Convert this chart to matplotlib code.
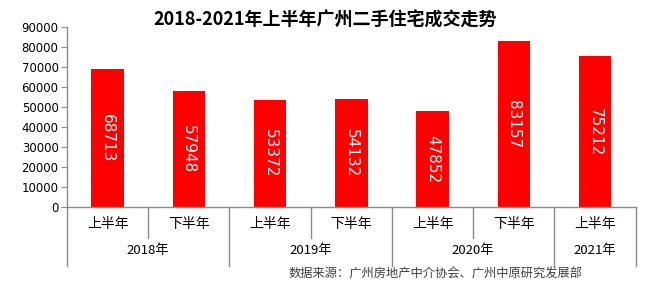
import matplotlib.pyplot as plt
import matplotlib.transforms as mtrans

plt.rcParams['font.family'] = ['Noto Sans CJK SC', 'DejaVu Sans']

years = ['2018年', '2019年', '2020年', '2021年']
halves = ['上半年', '下半年', '上半年', '下半年', '上半年', '下半年', '上半年']
year_of = [0, 0, 1, 1, 2, 2, 3]
values = [68713, 57948, 53372, 54132, 47852, 83157, 75212]
title = '2018-2021年上半年广州二手住宅成交走势'
source = '数据来源：广州房地产中介协会、广州中原研究发展部'

axis_col = '#8c8c8c'

fig = plt.figure(figsize=(6.5, 2.89), dpi=100)
ax = fig.add_axes([0.103, 0.284, 0.875, 0.623])

xs = list(range(len(values)))
ax.bar(xs, values, width=0.4, color='#ff0000', zorder=2)
for x, v in zip(xs, values):
    ax.text(x, v / 2, str(v), rotation=-90, ha='center', va='center',
            color='white', fontsize=11, family='DejaVu Sans')

ax.set_xlim(-0.5, len(values) - 0.5)
ax.set_ylim(0, 90000)
ax.set_yticks(range(0, 90001, 10000))
ax.tick_params(axis='y', length=4, color=axis_col, labelsize=8.5, pad=2)
for lab in ax.get_yticklabels():
    lab.set_family('DejaVu Sans')
ax.set_xticks([])

for s in ['top', 'right']:
    ax.spines[s].set_visible(False)
for s in ['left', 'bottom']:
    ax.spines[s].set_color(axis_col)
    ax.spines[s].set_linewidth(1)

# two-level category axis
tr = mtrans.blended_transform_factory(ax.transData, ax.transAxes)
for i in range(len(values) + 1):
    b = i - 0.5
    if i == 0 or i == len(values) or year_of[i] != year_of[i - 1]:
        y1 = -0.33
    else:
        y1 = -0.17
    ax.plot([b, b], [0, y1], color=axis_col, lw=1, transform=tr, clip_on=False)

for x, h in zip(xs, halves):
    ax.text(x, -0.095, h, transform=tr, ha='center', va='center', fontsize=10)

for k, y in enumerate(years):
    idx = [i for i in xs if year_of[i] == k]
    ax.text(sum(idx) / len(idx), -0.24, y, transform=tr, ha='center',
            va='center', fontsize=9.5)

fig.text(0.5, 0.93, title, ha='center', va='center', fontsize=13,
         fontweight='bold')
fig.text(0.67, 0.052, source, ha='center', va='center', fontsize=8.8,
         color='#404040')

fig.savefig('out.png', dpi=100)
